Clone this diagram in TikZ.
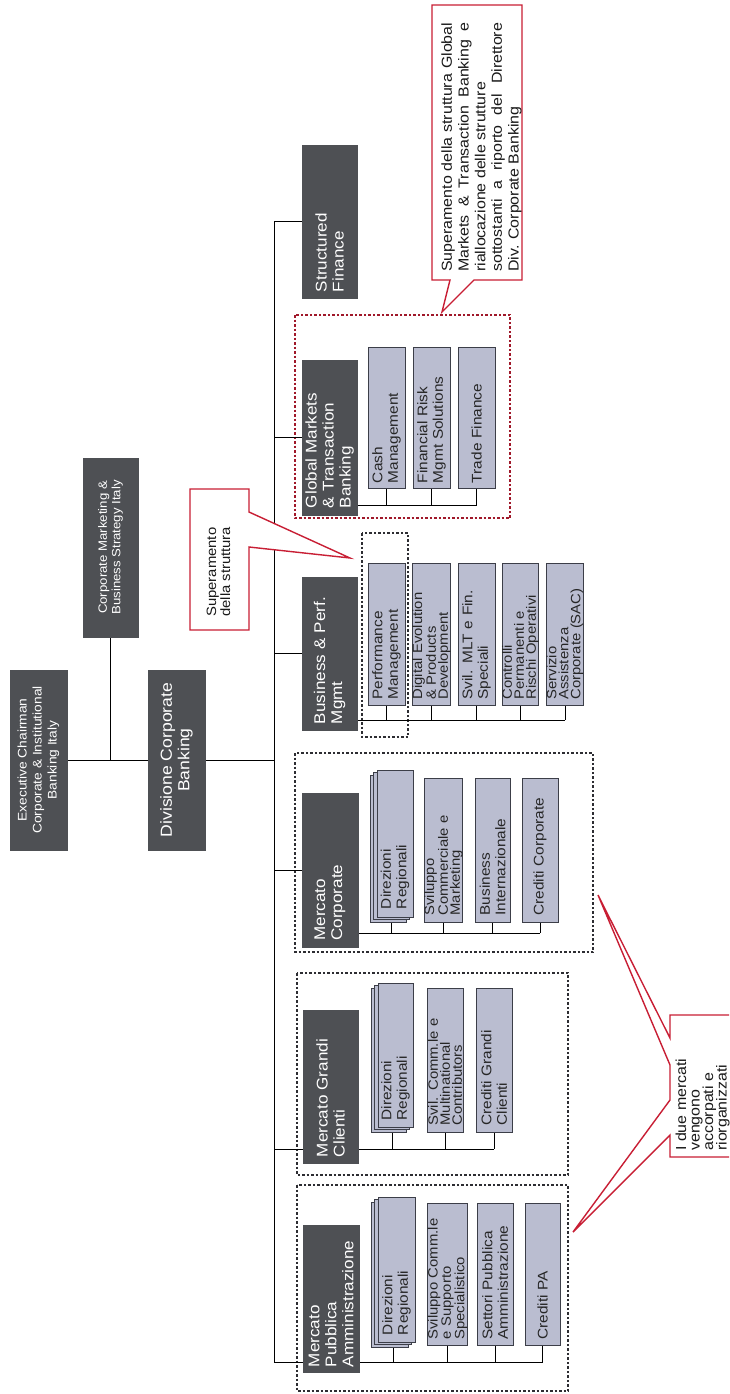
\documentclass[tikz,border=0pt]{standalone}
\usepackage{fontspec}
\setmainfont{Liberation Sans}[FakeStretch=1.1]
\usetikzlibrary{backgrounds}
\definecolor{darkbox}{RGB}{78,80,84}
\definecolor{childfill}{RGB}{186,189,208}
\definecolor{childline}{RGB}{60,62,72}
\definecolor{calred}{RGB}{200,30,52}
\definecolor{grpline}{RGB}{45,45,50}
\newcommand{\oneline}[1]{\makebox[131pt][l]{#1}}
\setlength{\parindent}{0pt}
\begin{document}
\setlength{\lineskiplimit}{-20pt}%
\begin{tikzpicture}[x=1pt,y=-1pt,
  rbox/.style={rotate=90, inner ysep=0pt, outer sep=0pt},
  topbox/.style={rbox, fill=darkbox, draw=darkbox, text=white, align=center, inner xsep=4pt},
  lvbox/.style={rbox, fill=darkbox, draw=darkbox, text=white, align=left, text width=141pt,
    inner xsep=6pt, minimum height=55pt, font=\fontsize{15.5}{17}\selectfont},
  chbox/.style={rbox, fill=childfill, draw=childline, line width=0.9pt, text=black!85, align=left,
    text width=131pt, inner xsep=5pt, minimum width=141pt, minimum height=37pt,
    font=\fontsize{14}{15.5}\selectfont},
  cramped/.style={font=\fontsize{13.5}{12}\selectfont},
  stackbox/.style={rbox, fill=childfill, draw=childline, line width=0.9pt},
  conn/.style={draw=black, line width=1pt},
  grp/.style={draw=grpline, line width=1.1pt, dash pattern=on 2.5pt off 2pt},
  callout/.style={draw=calred, line width=1.4pt, fill=white, line join=miter},
  ctext/.style={rotate=90, inner sep=0pt, anchor=west, text=black!90},
]
\useasboundingbox (0,0) rectangle (729,1394);
\clip (0,0) rectangle (729,1394);

% top level
\node[topbox, minimum width=180pt, minimum height=57pt, font=\fontsize{12.5}{15}\selectfont] (exec) at (38.5,760) {Executive Chairman\\Corporate \& Institutional\\Banking Italy};
\node[topbox, minimum width=179pt, minimum height=55pt, font=\fontsize{12}{13.5}\selectfont] (cm) at (110.5,547.5) {Corporate Marketing \&\\Business Strategy Italy};
\node[topbox, minimum width=180pt, minimum height=57pt, font=\fontsize{16}{17.5}\selectfont] (div) at (176.5,760) {Divisione Corporate\\Banking};

% second level
\node[lvbox, minimum width=153pt] (sf) at (329.5,221.5) {Structured\\Finance};
\node[lvbox, minimum width=155pt] (gm) at (329.5,437.5) {Global Markets\\\& Transaction\\Banking};
\node[lvbox, minimum width=153pt] (bp) at (329.5,653.5) {Business \& Perf.\\Mgmt};
\node[lvbox, minimum width=154pt, minimum height=56pt] (mc) at (330,870) {Mercato\\Corporate};
\node[lvbox, minimum width=153pt] (mg) at (330.5,1086.5) {Mercato Grandi\\Clienti};
\node[lvbox, minimum width=147pt, minimum height=56pt, text width=137pt, inner xsep=5pt] (mp) at (331,1298.5) {Mercato\\Pubblica\\Amministrazione};

% Global Markets children
\node[chbox] (gm1) at (386.5,417.5) {Cash\\Management};
\node[chbox] (gm2) at (431.5,417.5) {Financial Risk\\Mgmt Solutions};
\node[chbox] (gm3) at (476.5,417.5) {\oneline{Trade Finance}};

% Business & Perf. children
\node[chbox, minimum width=142pt] (bp1) at (386.5,634) {Performance\\Management};
\node[chbox, cramped, minimum width=142pt] (bp2) at (431.5,634) {Digital Evolution\\\& Products\\Development};
\node[chbox, minimum width=142pt] (bp3) at (476.5,634) {Svil. MLT e Fin.\\Speciali};
\node[chbox, cramped, minimum width=142pt, minimum height=35pt] (bp4) at (520.5,634) {Controlli\\Permanenti e\\Rischi Operativi};
\node[chbox, cramped, minimum width=142pt, minimum height=36pt] (bp5) at (565,634) {Servizio\\Assistenza\\Corporate (SAC)};

% Mercato Corporate children
\node[stackbox, minimum width=147pt, minimum height=36pt] (mc1c) at (388,848.5) {};
\node[stackbox, minimum width=147pt, minimum height=36pt] (mc1b) at (391.5,846) {};
\node[chbox, minimum width=147pt, minimum height=36pt] (mc1) at (395,843.5) {Direzioni\\Regionali};
\node[chbox, cramped, minimum width=144pt] (mc2) at (443.5,850) {Sviluppo\\Commerciale e\\Marketing};
\node[chbox, minimum width=144pt, minimum height=35pt] (mc3) at (492.5,850) {Business\\Internazionale};
\node[chbox, minimum width=144pt, minimum height=36pt] (mc4) at (540,850) {\oneline{Crediti Corporate}};

% Mercato Grandi Clienti children
\node[stackbox, minimum width=144pt, minimum height=35pt] (mg1c) at (388.5,1060) {};
\node[stackbox, minimum width=144pt, minimum height=35pt] (mg1b) at (392,1057.5) {};
\node[chbox, minimum width=144pt, minimum height=35pt] (mg1) at (395.5,1055) {Direzioni\\Regionali};
\node[chbox, cramped, minimum width=144pt, minimum height=36pt] (mg2) at (445,1060) {Svil. Comm.le e\\Multinational\\Contributors};
\node[chbox, minimum width=144pt, minimum height=36pt] (mg3) at (494,1060) {Crediti Grandi\\Clienti};

% Mercato Pubblica children
\node[stackbox, minimum width=145pt, minimum height=37pt] (mp1c) at (389.5,1274.5) {};
\node[stackbox, minimum width=145pt, minimum height=37pt] (mp1b) at (393,1272) {};
\node[chbox, minimum width=145pt] (mp1) at (396.5,1269.5) {Direzioni\\Regionali};
\node[chbox, cramped, minimum width=142pt, minimum height=35pt] (mp2) at (447.5,1274) {Sviluppo Comm.le\\e Supporto\\Specialistico};
\node[chbox, minimum width=142pt, minimum height=36pt] (mp3) at (495,1274) {Settori Pubblica\\Amministrazione};
\node[chbox, minimum width=142pt, minimum height=35pt] (mp4) at (542.5,1274) {\oneline{Crediti PA}};

\begin{pgfonlayer}{background}
  \fill[white] (0,0) rectangle (729,1394);
  % group frames
  \draw[grp, draw=calred!80!black] (295,315) rectangle (510,518);
  \draw[grp] (362,533) rectangle (408,737);
  \draw[grp] (295,753) rectangle (593,952);
  \draw[grp] (297,973) rectangle (568,1175);
  \draw[grp] (297,1185) rectangle (568,1391);
  % top connectors
  \coordinate (bus) at (274,0);
  \draw[conn] (exec.south) -- (div.north);
  \draw[conn] (cm.west) -- (cm.west |- exec.south);
  \draw[conn] (div.south) -- (div.south -| bus);
  % main bus
  \coordinate (mgin) at ([yshift=14pt]mg.north west);
  \coordinate (mpin) at ([yshift=10pt]mp.north west);
  \draw[conn] (sf.north -| bus) -- (mpin -| bus);
  \foreach \n in {sf,gm,bp,mc} \draw[conn] (\n.north -| bus) -- (\n.north);
  \draw[conn] (mgin -| bus) -- (mgin);
  \draw[conn] (mpin -| bus) -- (mpin);
  % child buses
  \coordinate (gmb) at ([yshift=10pt]gm.south west);
  \draw[conn] (gmb) -- (gmb -| gm3.west);
  \foreach \c in {gm1,gm2,gm3} \draw[conn] (\c.west) -- (\c.west |- gmb);
  \coordinate (bpb) at ([yshift=10pt]bp.south west);
  \draw[conn] (bpb) -- (bpb -| bp5.west);
  \foreach \c in {bp1,bp2,bp3,bp4,bp5} \draw[conn] (\c.west) -- (\c.west |- bpb);
  \coordinate (mcb) at ([yshift=14pt]mc.south west);
  \draw[conn] (mcb) -- (mcb -| mc4.west);
  \foreach \c in {mc1b,mc2,mc3,mc4} \draw[conn] (\c.west) -- (\c.west |- mcb);
  \coordinate (mgb) at ([yshift=14pt]mg.south west);
  \draw[conn] (mgb) -- (mgb -| mg3.west);
  \foreach \c in {mg1b,mg2,mg3} \draw[conn] (\c.west) -- (\c.west |- mgb);
  \coordinate (mpb) at ([yshift=10pt]mp.south west);
  \draw[conn] (mpb) -- (mpb -| mp4.west);
  \foreach \c in {mp1b,mp2,mp3,mp4} \draw[conn] (\c.west) -- (\c.west |- mpb);
\end{pgfonlayer}

% callouts
\draw[callout] (432,5) -- (522,5) -- (522,280) -- (474,280) -- (442,312) -- (450,280) -- (432,280) -- cycle;
\node[ctext, text width=249pt, align=justify, font=\fontsize{14.5}{16.7}\selectfont] (c1) at (481.5,272)
  {Superamento della struttura Global\linebreak Markets \& Transaction Banking e\linebreak riallocazione delle strutture\newline sottostanti a riporto del Direttore\linebreak Div. Corporate Banking};

\draw[callout] (190,489) -- (249,489) -- (249,512) -- (350,558) -- (249,547) -- (249,630) -- (190,630) -- cycle;
\node[ctext, align=left, font=\fontsize{13.5}{14}\selectfont] (c2) at (218.5,617) {Superamento\\della struttura};

\draw[callout] (670,1015) -- (670,1038) -- (598,895) -- (670,1065) -- (670,1100) -- (573,1232) -- (670,1135) -- (670,1157) -- (740,1157) -- (740,1015) -- cycle;
\node[ctext, align=left, font=\fontsize{14.5}{13.5}\selectfont] (c3) at (702.5,1151) {I due mercati\\vengono\\accorpati e\\riorganizzati};
\end{tikzpicture}
\end{document}
